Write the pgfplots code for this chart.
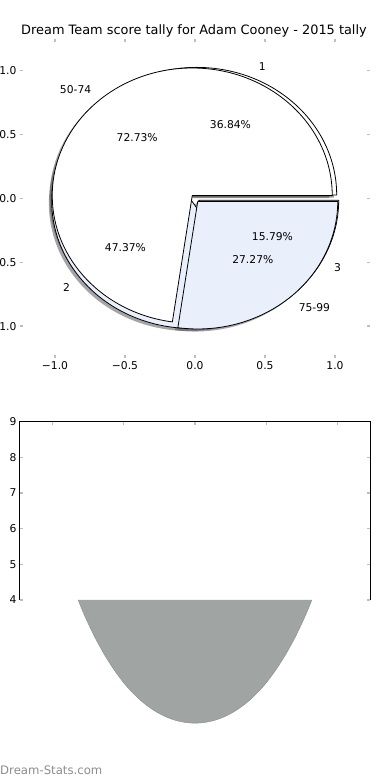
\documentclass[border=0pt]{standalone}
\usepackage{fontspec}
\setmainfont{DejaVu Sans}
\usepackage{pgfplots}
\pgfplotsset{compat=1.18}
\definecolor{pieblue}{HTML}{E9EFFB}
\definecolor{bowl}{RGB}{160,165,164}
\definecolor{tickgray}{RGB}{190,190,190}
\definecolor{wmgray}{RGB}{140,140,140}
% wedge: cx, cy, start angle, end angle, style
\newcommand{\pieslice}[5]{%
  \path[#5] (axis cs:#1,#2) -- ++(#3:140pt and 127.6pt)
    arc[start angle=#3, end angle=#4, x radius=140pt, y radius=127.6pt] -- cycle;}
\tikzset{
  wedge/.style={draw=black, line width=0.8pt, line join=round},
  shadow/.style={fill=black!70, fill opacity=0.5, draw=none},
  lbl/.style={inner sep=0pt, font=\fontsize{10.75}{12}\selectfont},
}
\pgfplotstableread{
x y
-0.818 4.000
-0.769 3.527
-0.699 2.939
-0.629 2.433
-0.559 2.000
-0.490 1.634
-0.420 1.330
-0.350 1.081
-0.280 0.884
-0.210 0.734
-0.140 0.629
-0.070 0.567
0.000 0.546
0.070 0.567
0.140 0.629
0.210 0.734
0.280 0.884
0.350 1.081
0.420 1.330
0.490 1.634
0.559 2.000
0.629 2.433
0.699 2.939
0.769 3.527
0.818 4.000
}\bowltable
\begin{document}
\begin{tikzpicture}
\useasboundingbox (0pt,0pt) rectangle (390pt,780pt);
\node[anchor=base, inner sep=0pt, font=\fontsize{12.9}{15}\selectfont] at (194pt,745pt)
  {Dream Team score tally for Adam Cooney - 2015 tally};

% ---------- top axis: two overlaid pies ----------
\begin{axis}[
  at={(20pt,422pt)}, anchor=south west, scale only axis,
  width=350pt, height=319pt,
  xmin=-1.25, xmax=1.25, ymin=-1.25, ymax=1.25,
  axis line style={draw=none},
  tick align=inside, major tick length=3pt,
  tick style={tickgray, line width=1.2pt},
  xtick={-1,-0.5,0,0.5,1}, xticklabels={−1.0,−0.5,0.0,0.5,1.0},
  ytick={-1,-0.5,0,0.5,1}, yticklabels={−1.0,−0.5,0.0,0.5,1.0},
  tick label style={font=\fontsize{10.75}{12}\selectfont},
]
% shadows
\pieslice{0.01205-0.02}{0.02747-0.02}{0}{132.62}{shadow}
\pieslice{-0.02368-0.02}{-0.01842-0.02}{132.62}{303.16}{shadow}
\pieslice{0.02638-0.02}{-0.01428-0.02}{303.16}{360}{shadow}
\pieslice{-0.01965-0.02}{0.02267-0.02}{0}{261.83}{shadow}
\pieslice{0.01965-0.02}{-0.02267-0.02}{261.83}{360}{shadow}
% pie A: 1, 2, 3  (36.84, 47.37, 15.79 %)
\pieslice{0.01205}{0.02747}{0}{132.62}{wedge, fill=white}
\pieslice{-0.02368}{-0.01842}{132.62}{303.16}{wedge, fill=pieblue}
\pieslice{0.02638}{-0.01428}{303.16}{360}{wedge, fill=white}
% pie B: 50-74, 75-99  (72.73, 27.27 %)
\pieslice{-0.01965}{0.02267}{0}{261.83}{wedge, fill=white}
\pieslice{0.01965}{-0.02267}{261.83}{360}{wedge, fill=pieblue}
% labels pie A
\node[lbl, anchor=west] at (axis cs:0.454,1.035) {1};
\node[lbl, anchor=east] at (axis cs:-0.892,-0.694) {2};
\node[lbl, anchor=west] at (axis cs:0.993,-0.538) {3};
\node[lbl] at (axis cs:0.253,0.577) {36.84\%};
\node[lbl] at (axis cs:-0.497,-0.386) {47.37\%};
\node[lbl] at (axis cs:0.553,-0.300) {15.79\%};
% labels pie B
\node[lbl, anchor=east] at (axis cs:-0.74,0.855) {50-74};
\node[lbl, anchor=west] at (axis cs:0.74,-0.855) {75-99};
\node[lbl] at (axis cs:-0.413,0.476) {72.73\%};
\node[lbl] at (axis cs:0.413,-0.476) {27.27\%};
\end{axis}

% ---------- bottom axis ----------
\begin{axis}[
  at={(20pt,180pt)}, anchor=south west, scale only axis,
  width=350pt, height=178.3pt,
  xmin=-1.225, xmax=1.225, ymin=4, ymax=9,
  clip=false,
  axis line style={draw=none},
  tick align=inside, major tick length=3pt,
  tick style={tickgray, line width=1.2pt},
  xtick={-1,-0.5,0,0.5,1}, xticklabels={}, xtick pos=right,
  ytick={4,5,6,7,8,9}, yticklabels={4,5,6,7,8,9},
  ytick pos=both, yticklabel pos=left,
  tick label style={font=\fontsize{10.75}{12}\selectfont},
]
\addplot[fill=bowl, draw=none, smooth] table {\bowltable} -- cycle;
\addplot[draw=bowl!85!black, line width=0.4pt, smooth] table {\bowltable};
\draw[black, line width=1pt] (rel axis cs:0,0) -- (rel axis cs:0,1)
  -- (rel axis cs:1,1) -- (rel axis cs:1,0);
\end{axis}

\node[anchor=west, inner sep=0pt, text=wmgray, font=\fontsize{11.7}{13}\selectfont]
  at (0pt,10pt) {Dream-Stats.com};
\end{tikzpicture}
\end{document}
